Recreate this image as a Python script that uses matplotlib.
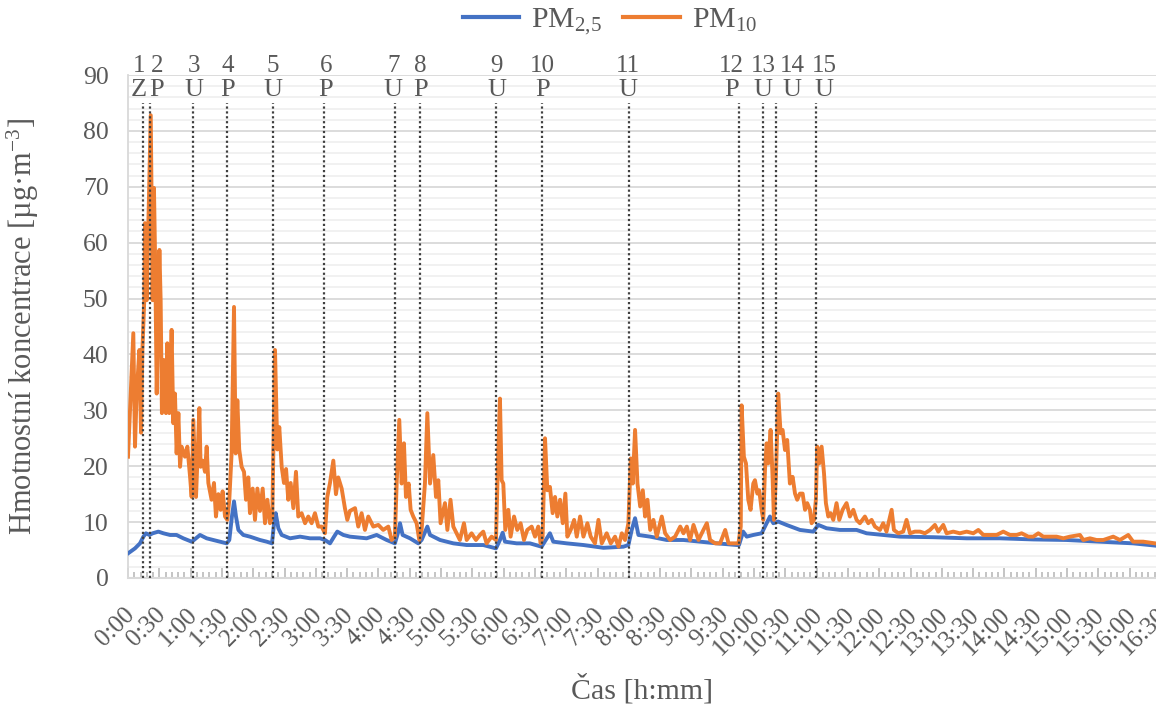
import matplotlib
matplotlib.use("Agg")
import matplotlib.pyplot as plt
import matplotlib.transforms as mtransforms
from matplotlib.ticker import MultipleLocator, FuncFormatter
from matplotlib.lines import Line2D

plt.rcParams['font.family'] = ['Liberation Serif', 'DejaVu Serif']
plt.rcParams['mathtext.fontset'] = 'custom'
plt.rcParams['mathtext.rm'] = 'Liberation Serif'
plt.rcParams['mathtext.it'] = 'Liberation Serif:italic'

# ---------------- data (time in minutes) ----------------
pm10_t = [0, 5.1, 6.7, 8.3, 10.9, 12.5, 13.8, 15.6, 16.3, 17.9, 19.5, 21.8, 23.6, 24.9, 26.2, 27.5,
          30.1, 31.3, 32.5, 34.5, 36.4, 37.7, 39.6, 41.8, 43.4, 45, 46.6, 48.3, 49.9, 51.4, 54.6,
          56.9, 59.5, 61, 62.6, 65.2, 68.4, 69.6, 71.5, 73.8, 75.4, 77, 80.1, 82.4, 84.3, 86.6,
          88.8, 90.7, 93, 95.2, 97.1, 99.3, 101.6, 103.2, 104.8, 106.6, 108.9, 111.2, 113.1,
          115.3, 116.9, 119.5, 121.7, 124, 126.5, 129.1, 131.3, 133.6, 136.1, 138.3, 140.9, 143.1,
          145, 147.3, 149.5, 151.5, 153.6, 155.9, 158.5, 161, 163.2, 166.4, 169.7, 172.8, 176,
          179.2, 182.4, 185.6, 188.8, 191, 193.6, 196.8, 199.3, 201.5, 204.8, 207.9, 210.2, 212.7,
          217.6, 220.7, 223.9, 227.1, 230.3, 235.1, 239.9, 244.6, 249.5, 252.7, 255.8, 257.5, 260,
          262.3, 264.5, 266.4, 269, 270.9, 273.4, 276.6, 279.2, 281.4, 284.6, 286.9, 289.5, 292.6,
          295.2, 297.4, 299.6, 303.8, 306.1, 309.1, 311.8, 315, 318.1, 322, 324.6, 329.3,
          333.5, 337.3, 340.5, 343.7, 348.5, 352.7, 354.9, 356.5, 358.1, 359.7, 361.6, 364.5, 366.7,
          370, 373.1, 376.3, 379.5, 382.7, 386.9, 390.1, 393.2, 395.5, 397.4, 399.7, 401.9, 404.4,
          407, 409.3, 411.5, 414.1, 416.7, 419.2, 421.1, 424.3, 427.6, 430.1, 433.3, 436.5, 440.3,
          443.5, 447.6, 450.9, 454.1, 458.8, 462.7, 466.8, 470.1, 473.3, 476.4, 479.6, 481.9, 483.8,
          486, 488.3, 490.9, 493.4, 495.6, 497.9, 500.5, 503.6, 506.8, 511.6, 514.8, 519.6, 524.4,
          529.3, 532.4, 535.6, 538.7, 542, 546.8, 551.5, 554.8, 557.9, 562.8, 567.5, 572.4, 575.6,
          580.3, 585.1, 587.3, 588.1, 590.3, 592.3, 594.5, 596.7, 599.3, 600.9, 603.2, 605, 607.3,
          608.9, 610.5, 612.1, 613.6, 615.9, 617.8, 619.1, 621, 623.2, 625.5, 627.4, 629.7, 631.8,
          634.4, 637, 639.3, 641.4, 644, 646.6, 648.9, 651, 653.6, 655.2, 657.5, 659.3, 660.6,
          662.5, 664.8, 667.1, 668.9, 671.2, 673.4, 676, 679.1, 681.7, 684.9, 688.7, 691.9, 695.2,
          698.3, 701.5, 706.3, 709.5, 712.7, 715.9, 720.7, 723.8, 727, 731.9, 734.1, 738.3, 743,
          746.2, 749.5, 754.2, 759.1, 763.8, 768.7, 773.4, 776.6, 781.4, 784.6, 791, 797.3, 803.8, 810.2,
          815, 819.8, 826.1, 832.6, 838.9, 845.3, 851.8, 856.5, 862.9, 867.7, 872.5, 877.3, 883.7,
          890, 896.5, 902.8, 912.4, 915.6, 922, 928.3, 934.8, 944.3, 950.7, 958.7, 963.4, 973,
          984.3]
pm10 = [21.7, 43.8, 23.5, 33, 40.8, 26, 40.8, 49.7, 63.5, 49.7, 63.5, 82.8, 49.7, 69.8, 54.6, 33,
        58.7, 49.7, 29.5, 39, 29.5, 42, 29.5, 44.4, 27.7, 33, 22.3, 29.5, 19.9, 23.5, 21.7,
        23.5, 18.1, 14.5, 28.3, 14.5, 30.4, 19.9, 21, 19, 23.5, 17, 14, 17, 11, 15,
        12.2, 15.5, 11, 10.4, 14, 22.3, 48.5, 22.3, 31.8, 23, 19.9, 19, 14,
        18, 11.6, 16, 10.4, 16, 12, 16, 9.8, 14, 9.8, 11, 40.8, 23,
        27, 19.9, 17, 19.5, 14, 17, 12.5, 19, 11, 11.6, 9.8, 11, 9.8,
        11.6, 9.2, 9.2, 8, 14.5, 17, 21, 15, 18, 16, 12.5, 10.4, 12,
        12.5, 9.2, 11.6, 8.6, 11, 9.2, 9.5, 8.6, 9.2, 6.8, 7.4, 16.9, 28.3,
        16.9, 24.1, 14.5, 16.9, 12.2, 11, 9.8, 6.8, 8.6, 16.9, 29.5, 16.9, 22,
        14.5, 17.5, 9.8, 13.4, 8.6, 14, 9.2, 8, 6.8, 9.8, 6.8, 8,
        6.8, 7.7, 8.3, 6.2, 7.4, 6.8, 22.9, 32.1, 17.5, 16.9, 8.6, 12.2, 7.4,
        11, 8.6, 9.8, 6.8, 8.6, 9.2, 7.4, 9.2, 6.2, 7.4, 25, 15.7, 16.3,
        11.6, 14.5, 11, 14, 9.8, 15.1, 7.4, 8.6, 10.4, 7.4, 11, 7.4, 9.8,
        7.4, 6.2, 10.4, 6.2, 8, 6.2, 7.4, 5.6, 8, 6.8, 9.8, 21.4, 16.9,
        26.5, 16.9, 12.8, 15.7, 11, 14, 8.6, 10.4, 7.4, 11, 8, 6.8, 7.4,
        9.2, 8, 9.2, 6.8, 9.5, 6.8, 8.6, 9.8, 6.8, 6.2, 6.2, 8.6, 6.2,
        6.2, 6.2, 9.2, 30.9, 21.7, 20.5, 14, 12.2, 16.9, 17.5, 15.1, 15.7, 12.2,
        10.4, 19.3, 24.1, 20.5, 26.5, 18.1, 10.4, 18.1, 33, 25.9, 26.5, 22.9, 24.7,
        16.9, 18.1, 15.1, 14, 15.1, 15.1, 12.2, 13.4, 12.2, 9.8, 10.4, 14, 23.5,
        20.5, 23.5, 18.7, 13.4, 11, 11.6, 10.4, 13.4, 10.4, 12.2, 13.4, 11, 12.2,
        10.4, 9.8, 11, 9.8, 10.4, 9.2, 8.6, 9.8, 8.3, 12.2, 8.6, 8, 8.3,
        10.4, 8, 8.3, 8.3, 8, 8.6, 9.5, 8.3, 9.5, 8, 8.3, 8, 8.3, 8,
        8.6, 7.7, 7.7, 7.7, 8.3, 7.7, 7.7, 8, 7.4, 7.4, 8, 7.4, 7.4,
        7.4, 7.1, 7.4, 7.7, 6.8, 7.1, 6.8, 6.8, 7.4, 6.8, 7.7, 6.5, 6.5,
        6.2]

pm25_t = [0, 6.7, 11.5, 14.8, 17.2, 20.5, 23.7, 29.1, 33.9, 40.3, 46.5, 53, 61, 63.2, 69, 75.4,
          81.7, 88.1, 94.6, 97.1, 99.6, 101.6, 103.5, 105.8, 110.5, 116.9, 126.5, 132.9, 138,
          140, 141.6, 144.1, 147.3, 155.3, 164.9, 174.4, 184, 188.8, 193.6, 197.5, 200.6, 206.4,
          212.7, 228.7, 238.3, 247.9, 255.8, 259.1, 260.7, 263.2, 270.3, 278.2, 281.4, 286.9, 289.5,
          299.1, 311.8, 324.6, 340.5, 352.7, 356.5, 359.1, 361.3, 372.5, 385.2, 396.4, 404.4, 407.6,
          420.4, 436.5, 455.7, 474.8, 479.6, 482.8, 486, 489.2, 500.5, 516.4, 532.4, 548.3, 564.4,
          583.6, 585.6, 589.6, 593, 599.3, 607.3, 610.5, 615.3, 618.5, 623.2, 631.1, 644, 656.8, 661.6,
          669.5, 682.3, 698.3, 707.9, 723.8, 739.9, 771.8, 803.8, 835.7, 867.7, 899.6, 931.6,
          963.4, 984.3]
pm25 = [4.4, 5.3, 6.2, 7.4, 8, 7.7, 8, 8.3, 8, 7.7, 7.7, 7.1, 6.5, 6.8, 7.7, 7.1,
        6.8, 6.5, 6.2, 6.8, 11, 13.7, 11, 8.6, 7.7, 7.4, 6.8, 6.5, 6.2,
        9.8, 11.6, 8.9, 7.7, 7.1, 7.4, 7.1, 7.1, 6.8, 6.2, 7.4, 8.3, 7.7,
        7.4, 7.1, 7.7, 6.8, 6.2, 8.3, 9.8, 7.7, 7.1, 6.2, 6.8, 9.2, 7.7,
        6.8, 6.2, 5.9, 5.9, 5.3, 6.8, 8.1, 6.5, 6.2, 6.2, 5.6, 8, 6.5,
        6.2, 5.9, 5.4, 5.6, 5.9, 8.6, 10.7, 7.7, 7.4, 6.8, 6.8, 6.5, 6.2,
        5.9, 5.9, 8.3, 7.4, 7.7, 8, 9.2, 11, 9.8, 10.1, 9.5, 8.6, 8.3, 9.5,
        8.9, 8.6, 8.6, 8, 7.7, 7.4, 7.3, 7.1, 7.1, 6.9, 6.8, 6.5,
        6.2, 5.8]

event_t = [14.6, 21.1, 62, 95.2, 138.7, 188.2, 256.1, 279.6, 352.7, 397, 479.8, 585.4,
           608.8, 621, 659.3]
event_num = ['1', '2', '3', '4', '5', '6', '7', '8', '9', '10', '11', '12', '13', '14', '15']
event_type = ['Z', 'P', 'U', 'P', 'U', 'P', 'U', 'P', 'U', 'P', 'U', 'P', 'U', 'U', 'U']
label_t = [10.6, 27.8, 63.5, 95.6, 138.7, 189.7, 254.2, 280.5, 353.4, 397.2, 479.4, 578.5,
           608.8, 636.8, 667]

# ---------------- figure ----------------
TXT = '#595959'
fig = plt.figure(figsize=(11.56, 7.06), dpi=100)
# plot area runs slightly past the right edge of the picture, as in the reference
ax = fig.add_axes([128 / 1156, 1 - 578 / 706, 1035 / 1156, (578 - 75) / 706])

ax.set_xlim(0, 992)
ax.set_ylim(0, 90)

ax.yaxis.set_major_locator(MultipleLocator(10))
ax.yaxis.set_minor_locator(MultipleLocator(2))
ax.xaxis.set_major_locator(MultipleLocator(30))
ax.xaxis.set_minor_locator(MultipleLocator(6))
ax.xaxis.set_major_formatter(FuncFormatter(lambda v, p: f"{int(round(v)) // 60}:{int(round(v)) % 60:02d}"))

ax.grid(which='major', axis='y', color='#d9d9d9', lw=1.3, zorder=0)
ax.grid(which='minor', axis='y', color='#f0f0f0', lw=1.3, zorder=0)
ax.set_axisbelow(True)

for s in ['top', 'right']:
    ax.spines[s].set_visible(False)
ax.spines['left'].set_color('#d9d9d9')
ax.spines['bottom'].set_color('#d9d9d9')
ax.spines['bottom'].set_linewidth(1.5)
ax.spines['left'].set_linewidth(1.3)

ax.tick_params(axis='y', which='both', length=0, labelsize=18.5, labelcolor=TXT, pad=14)
ax.tick_params(axis='x', which='major', direction='in', length=7, color='#bfbfbf', width=1.3,
               labelsize=18, labelcolor=TXT, pad=24)
ax.tick_params(axis='x', which='minor', direction='in', length=4, color='#bfbfbf', width=1.3)
shift = mtransforms.ScaledTranslation(3 / 100, 0, fig.dpi_scale_trans)
for lab in ax.get_xticklabels():
    lab.set_rotation(45)
    lab.set_ha('right')
    lab.set_va('center')
    lab.set_rotation_mode('anchor')
    lab.set_transform(lab.get_transform() + shift)

ax.plot(pm25_t, pm25, color='#4472C4', lw=2.8, zorder=3, solid_joinstyle='round')
ax.plot(pm10_t, pm10, color='#ED7D31', lw=2.8, zorder=4, solid_joinstyle='round')

for t in event_t:
    ax.plot([t, t], [0, 85], color='#404040', lw=1.6, ls=(0, (1, 1.2)), zorder=5)
for t, n, e in zip(label_t, event_num, event_type):
    ax.text(t, 91.6, n, ha='center', va='center', fontsize=18, color=TXT, clip_on=False)
    ax.text(t, 87.3, e, ha='center', va='center', fontsize=19, color=TXT, clip_on=False)

ax.set_ylabel('Hmotnostní koncentrace [µg·m$^{-3}$]', fontsize=22, color=TXT, labelpad=30)
ax.set_xlabel('Čas [h:mm]', fontsize=21.5, color=TXT, va='center')
ax.xaxis.set_label_coords(642 / 1156, 1 - 689 / 706, transform=fig.transFigure)

handles = [Line2D([], [], color='#4472C4', lw=3), Line2D([], [], color='#ED7D31', lw=3)]
fig.legend(handles, ['PM$_{2{,}5}$', 'PM$_{10}$'], loc='center', bbox_to_anchor=(610 / 1156, 1 - 22 / 706),
           ncol=2, frameon=False, fontsize=21.5, labelcolor=TXT, handlelength=1.9,
           columnspacing=0.7, handletextpad=0.4)

fig.savefig('out.png', dpi=100)
